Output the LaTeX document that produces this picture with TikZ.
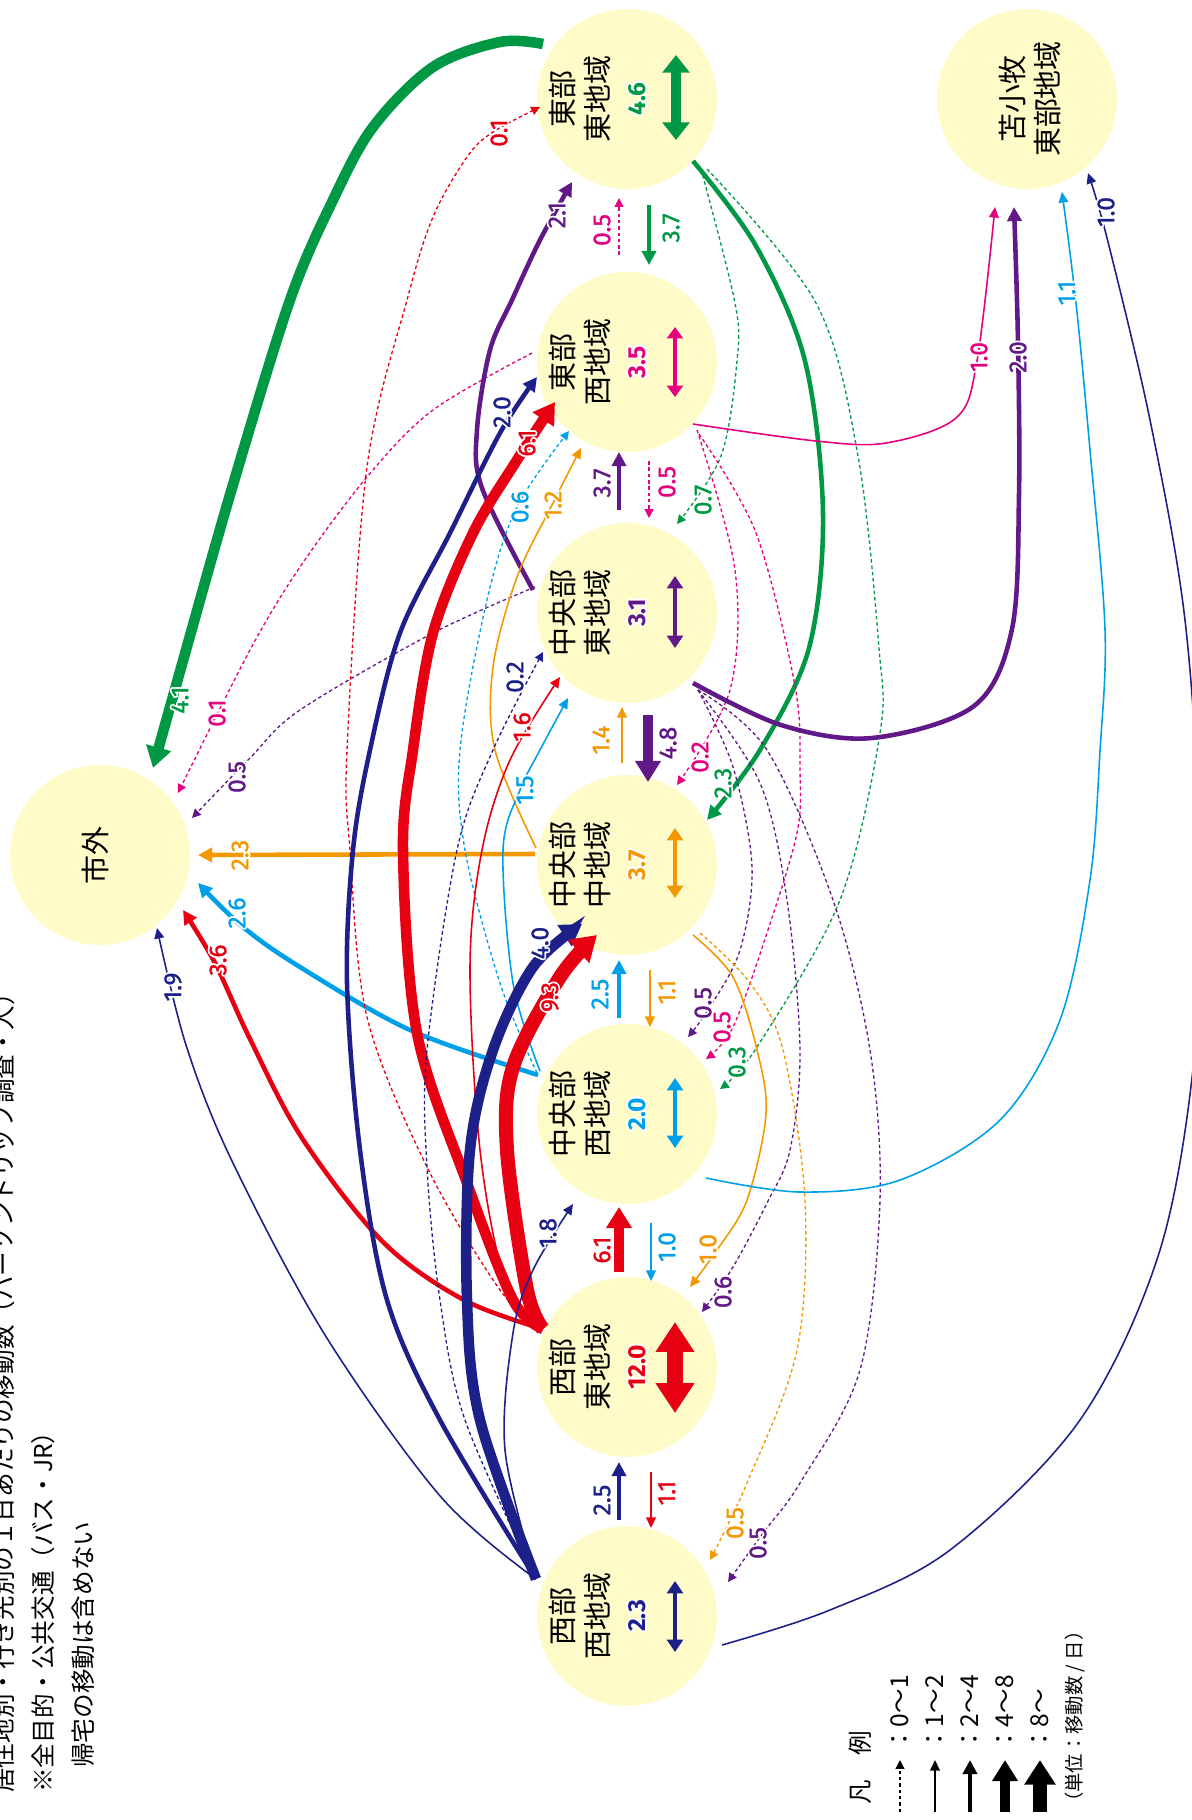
\documentclass[tikz,border=0pt]{standalone}
\usepackage{fontspec}
\setmainfont{Fira Sans}
\newfontfamily\jp{Noto Sans CJK JP}
\newfontfamily\labf{Fira Sans}[FakeBold=1.2]
\usetikzlibrary{arrows.meta}
\definecolor{cG}{HTML}{009844}
\definecolor{cP}{HTML}{E4007F}
\definecolor{cU}{HTML}{601986}
\definecolor{cO}{HTML}{F39800}
\definecolor{cC}{HTML}{00A0E9}
\definecolor{cR}{HTML}{E60012}
\definecolor{cN}{HTML}{1D2088}
\definecolor{zfill}{HTML}{FFFBC9}
\newcommand{\wc}[3]{\rlap{\kern#1\raisebox{#2}{\textcolor{white}{#3}}}}
\newcommand{\halo}[2]{\wc{1pt}{0pt}{#2}\wc{-1pt}{0pt}{#2}\wc{0pt}{1pt}{#2}\wc{0pt}{-1pt}{#2}\wc{0.7pt}{0.7pt}{#2}\wc{-0.7pt}{0.7pt}{#2}\wc{0.7pt}{-0.7pt}{#2}\wc{-0.7pt}{-0.7pt}{#2}\textcolor{#1}{#2}}
\tikzset{
 zone/.style={circle, fill=zfill, minimum size=3.6cm, inner sep=0pt, outer sep=0.1cm},
 zname/.style={rotate=90, align=center, font=\jp\fontsize{16.5}{19.8}\selectfont, inner sep=0pt},
 znum/.style={rotate=90, font=\bfseries\fontsize{14}{14}\selectfont, inner sep=0pt},
 lab/.style={rotate=90, font=\labf\fontsize{14}{14}\selectfont, inner sep=0pt},
 note/.style={rotate=90, anchor=west, font=\jp\fontsize{14}{14}\selectfont, inner sep=0pt},
 v0/.style={line width=0.75pt, dash pattern=on 2pt off 1.6pt, -{Triangle[length=5pt,width=5pt]}},
 v1/.style={line width=0.9pt, -{Triangle[length=6pt,width=5.5pt]}},
 v2/.style={line width=2.6pt, -{Triangle[length=8pt,width=8pt]}},
 v4/.style={line width=6pt, -{Triangle[length=12pt,width=14pt]}},
 v8/.style={line width=8pt, -{Triangle[length=14pt,width=17pt]}},
 sm/.style={smooth, tension=0.55},
}
\begin{document}
\begin{tikzpicture}[x=0.02cm,y=-0.02cm]
\useasboundingbox (0,0) rectangle (1191,1820);
% zones
\node[zone] (S) at (100,855) {};
\node[zone] (E1) at (627,99) {};
\node[zone] (T) at (1027,99) {};
\node[zone] (E2) at (627,362) {};
\node[zone] (C1) at (627,613) {};
\node[zone] (C2) at (627,865) {};
\node[zone] (C3) at (627,1114) {};
\node[zone] (W1) at (627,1367) {};
\node[zone] (W2) at (627,1616) {};
% end points
\coordinate (aE1g41) at ([shift={(-84,-55)}]E1.center);
\coordinate (aE1g23) at ([shift={(66,62)}]E1.center);
\coordinate (aE1g07) at ([shift={(74,70)}]E1.center);
\coordinate (aE1g03) at ([shift={(80,70)}]E1.center);
\coordinate (tE1u21) at ([shift={(-55,83)}]E1.center);
\coordinate (tE1r01) at ([shift={(-87,8)}]E1.center);
\coordinate (aE2p01) at ([shift={(-95,-9)}]E2.center);
\coordinate (aE2p10) at ([shift={(66,62)}]E2.center);
\coordinate (aE2p02) at ([shift={(70,68)}]E2.center);
\coordinate (aE2p05) at ([shift={(72,72)}]E2.center);
\coordinate (tE2n20) at ([shift={(-90,15)}]E2.center);
\coordinate (tE2r61) at ([shift={(-72,40)}]E2.center);
\coordinate (tE2c06) at ([shift={(-58,69)}]E2.center);
\coordinate (tE2o12) at ([shift={(-46,86)}]E2.center);
\coordinate (aC1u05) at ([shift={(-92,-26)}]C1.center);
\coordinate (aC1u21) at ([shift={(-94,-23)}]C1.center);
\coordinate (aC1u20) at ([shift={(66,70)}]C1.center);
\coordinate (aC1ud) at ([shift={(71,77)}]C1.center);
\coordinate (tC1g07) at ([shift={(50,-89)}]C1.center);
\coordinate (tC1n02) at ([shift={(-84,39)}]C1.center);
\coordinate (tC1r16) at ([shift={(-67,64)}]C1.center);
\coordinate (tC1c15) at ([shift={(-59,85)}]C1.center);
\coordinate (aC2o23) at ([shift={(-92,-11)}]C2.center);
\coordinate (aC2o12) at ([shift={(-91,-17)}]C2.center);
\coordinate (aC2o10) at ([shift={(66,70)}]C2.center);
\coordinate (aC2o05) at ([shift={(73,68)}]C2.center);
\coordinate (tC2g23) at ([shift={(80,-45)}]C2.center);
\coordinate (tC2p02) at ([shift={(50,-80)}]C2.center);
\coordinate (tC2n40) at ([shift={(-45,59)}]C2.center);
\coordinate (tC2r93) at ([shift={(-30,70)}]C2.center);
\coordinate (aC3c26) at ([shift={(-89,-39)}]C3.center);
\coordinate (aC3c06) at ([shift={(-90,-41)}]C3.center);
\coordinate (aC3c15) at ([shift={(-87,-43)}]C3.center);
\coordinate (aC3c11) at ([shift={(79,64)}]C3.center);
\coordinate (tC3u05) at ([shift={(61,-77)}]C3.center);
\coordinate (tC3p05) at ([shift={(79,-55)}]C3.center);
\coordinate (tC3g03) at ([shift={(93,-25)}]C3.center);
\coordinate (tC3n18) at ([shift={(-54,90)}]C3.center);
\coordinate (aW1) at ([shift={(-84,-38)}]W1.center);
\coordinate (tW1o10) at ([shift={(63,-80)}]W1.center);
\coordinate (tW1u06) at ([shift={(75,-55)}]W1.center);
\coordinate (aW2) at ([shift={(-91,-37)}]W2.center);
\coordinate (aW2n10) at ([shift={(95,29)}]W2.center);
\coordinate (tW2o05) at ([shift={(83,-56)}]W2.center);
\coordinate (tW2u05) at ([shift={(101,-34)}]W2.center);
\coordinate (tSg) at ([shift={(53,-87)}]S.center);
\coordinate (tSp) at ([shift={(78,-62)}]S.center);
\coordinate (tSu) at ([shift={(92,-37)}]S.center);
\coordinate (tSo) at ([shift={(98,0)}]S.center);
\coordinate (tSc) at ([shift={(98,28)}]S.center);
\coordinate (tSr) at ([shift={(83,55)}]S.center);
\coordinate (tSn) at ([shift={(57,73)}]S.center);
\coordinate (tTp) at ([shift={(-32,108)}]T.center);
\coordinate (tTu) at ([shift={(-13,108)}]T.center);
\coordinate (tTc) at ([shift={(35,93)}]T.center);
\coordinate (tTn) at ([shift={(61,74)}]T.center);
% ---- to Shigai
\draw[v4,cG] plot[sm] coordinates {(aE1g41) (500,42) (433,67) (373,127) (333,200) (290,300) (232,488) (186,650) (tSg)};
\draw[v0,cP] plot[sm] coordinates {(aE2p01) (433,410) (367,477) (300,567) (250,650) (tSp)};
\draw[v0,cU] plot[sm] coordinates {(aC1u05) (433,633) (300,710) (250,758) (tSu)};
\draw[v2,cO] (aC2o23) -- (tSo);
\draw[v2,cC] plot[sm] coordinates {(aC3c26) (410,1030) (300,967) (243,927) (tSc)};
\draw[v2,cR] plot[sm] coordinates {(aW1) (464,1300) (383,1242) (302,1138) (250,1039) (215,963) (tSr)};
\draw[v1,cN] plot[sm] coordinates {(aW2) (441,1497) (325,1335) (232,1161) (186,1045) (tSn)};
% ---- to E1
\draw[v2,cU] plot[sm] coordinates {(aC1u21) (482,488) (477,430) (490,350) (512,300) (540,240) (tE1u21)};
\draw[v0,cR] plot[sm] coordinates {(aW1) (500,1290) (427,1167) (367,1017) (350,850) (347,750) (367,467) (407,300) (433,217) (467,157) (493,132) (tE1r01)};
% ---- to E2
\draw[v2,cN] plot[sm] coordinates {(aW2) (440,1420) (387,1300) (360,1150) (347,983) (353,850) (370,750) (400,633) (450,533) (500,433) (tE2n20)};
\draw[v4,cR] plot[sm] coordinates {(aW1) (513,1300) (467,1183) (417,1033) (403,850) (413,750) (433,633) (473,533) (517,460) (tE2r61)};
\draw[v0,cC] plot[sm] coordinates {(aC3c06) (500,983) (465,850) (460,750) (487,600) (517,507) (tE2c06)};
\draw[v1,cO] plot[sm] coordinates {(aC2o12) (495,750) (493,667) (517,577) (553,503) (tE2o12)};
% ---- to C1
\draw[v0,cG] plot[sm] coordinates {(aE1g07) (735,303) (737,361) (721,456) (tC1g07)};
\draw[v0,cN] plot[sm] coordinates {(aW2) (465,1420) (440,1300) (427,1167) (427,1050) (457,850) (493,750) (tC1n02)};
\draw[v1,cR] plot[sm] coordinates {(aW1) (505,1280) (480,1150) (470,967) (482,850) (510,760) (tC1r16)};
\draw[v1,cC] plot[sm] coordinates {(aC3c15) (513,983) (503,850) (520,790) (540,750) (tC1c15)};
% ---- to C2
\draw[v2,cG] plot[sm] coordinates {(aE1g23) (756,246) (805,361) (823,514) (809,648) (760,750) (tC2g23)};
\draw[v0,cP] plot[sm] coordinates {(aE2p02) (735,570) (730,690) (tC2p02)};
\draw[v4,cN] plot[sm] coordinates {(aW2) (480,1420) (467,1300) (470,1150) (493,1050) (533,967) (tC2n40)};
\draw[v8,cR] plot[sm] coordinates {(aW1) (527,1290) (507,1150) (513,1067) (560,977) (tC2r93)};
% ---- to C3
\draw[v0,cU] plot[sm] coordinates {(aC1ud) (733,767) (752,867) (740,950) (710,1007) (tC3u05)};
\draw[v0,cP] plot[sm] coordinates {(aE2p05) (756,533) (795,686) (800,770) (797,833) (767,933) (733,1027) (tC3p05)};
\draw[v0,cG] plot[sm] coordinates {(aE1g03) (816,303) (858,456) (879,648) (880,733) (840,900) (757,1047) (tC3g03)};
\draw[v1,cN] plot[sm] coordinates {(aW2) (505,1450) (513,1333) (533,1270) (tC3n18)};
% ---- to W1
\draw[v1,cO] plot[sm] coordinates {(aC2o10) (733,977) (757,1050) (766,1114) (747,1200) (717,1250) (tW1o10)};
\draw[v0,cU] plot[sm] coordinates {(aC1ud) (760,783) (787,900) (800,1050) (790,1150) (767,1203) (733,1267) (tW1u06)};
% ---- to W2
\draw[v0,cO] plot[sm] coordinates {(aC2o05) (750,983) (783,1050) (805,1200) (797,1350) (747,1483) (tW2o05)};
\draw[v0,cU] plot[sm] coordinates {(aC1ud) (767,750) (833,900) (870,1050) (880,1200) (860,1370) (800,1483) (763,1533) (tW2u05)};
% ---- to Tomakomai
\draw[v1,cP] plot[sm] coordinates {(aE2p10) (816,441) (886,443) (956,418) (977,361) (tTp)};
\draw[v2,cU] plot[sm] coordinates {(aC1u20) (781,725) (872,738) (974,706) (1012,629) (1019,495) (1018,342) (tTu)};
\draw[v1,cC] plot[sm] coordinates {(aC3c11) (800,1192) (900,1180) (1000,1120) (1060,1020) (1090,880) (1100,751) (1105,629) (1090,450) (1076,303) (tTc)};
\draw[v1,cN] plot[sm] coordinates {(aW2n10) (830,1610) (950,1550) (1080,1420) (1160,1250) (1195,1050) (1200,850) (1185,620) (1150,420) (1107,238) (tTn)};
% ---- short arrows between neighbours
\draw[v0,cP] ([shift={(-8,-107)}]E2.center) -- ([shift={(-8,99)}]E1.center);
\draw[v2,cG] ([shift={(22,106)}]E1.center) -- ([shift={(22,-97)}]E2.center);
\draw[v2,cU] ([shift={(-8,-103)}]C1.center) -- ([shift={(-8,90)}]E2.center);
\draw[v0,cP] ([shift={(22,99)}]E2.center) -- ([shift={(22,-95)}]C1.center);
\draw[v1,cO] ([shift={(-5,-102)}]C2.center) -- ([shift={(-5,94)}]C1.center);
\draw[v4,cU] ([shift={(21,102)}]C1.center) -- ([shift={(21,-83)}]C2.center);
\draw[v2,cC] ([shift={(-8,-96)}]C3.center) -- ([shift={(-8,95)}]C2.center);
\draw[v1,cO] ([shift={(23,105)}]C2.center) -- ([shift={(23,-87)}]C3.center);
\draw[v4,cR] ([shift={(-8,-95)}]W1.center) -- ([shift={(-8,93)}]C3.center);
\draw[v1,cC] ([shift={(24,109)}]C3.center) -- ([shift={(24,-86)}]W1.center);
\draw[v2,cN] ([shift={(-8,-96)}]W2.center) -- ([shift={(-8,95)}]W1.center);
\draw[v1,cR] ([shift={(24,105)}]W1.center) -- ([shift={(24,-88)}]W2.center);
% ---- labels
\node[lab] (L01) at (180,700) {\halo{cG}{4.1}};
\node[lab] (L02) at (217,713) {\halo{cP}{0.1}};
\node[lab] (L03) at (237,777) {\halo{cU}{0.5}};
\node[lab] (L04) at (240,855) {\halo{cO}{2.3}};
\node[lab] (L05) at (237,913) {\halo{cC}{2.6}};
\node[lab] (L06) at (218,960) {\halo{cR}{3.6}};
\node[lab] (L07) at (173,987) {\halo{cN}{1.9}};
\node[lab] (L08) at (499,133) {\halo{cR}{0.1}};
\node[lab] (L09) at (557,215) {\halo{cU}{2.1}};
\node[lab] (L10) at (602,230) {\halo{cP}{0.5}};
\node[lab] (L11) at (671,228) {\halo{cG}{3.7}};
\node[lab] (L12) at (502,412) {\halo{cN}{2.0}};
\node[lab] (L13) at (527,443) {\halo{cR}{6.1}};
\node[lab] (L14) at (520,507) {\halo{cC}{0.6}};
\node[lab] (L15) at (553,505) {\halo{cO}{1.2}};
\node[lab] (L16) at (602,483) {\halo{cU}{3.7}};
\node[lab] (L17) at (667,482) {\halo{cP}{0.5}};
\node[lab] (L18) at (703,500) {\halo{cG}{0.7}};
\node[lab] (L19) at (515,677) {\halo{cN}{0.2}};
\node[lab] (L20) at (522,727) {\halo{cR}{1.6}};
\node[lab] (L21) at (525,790) {\halo{cC}{1.5}};
\node[lab] (L22) at (601,740) {\halo{cO}{1.4}};
\node[lab] (L23) at (668,743) {\halo{cU}{4.8}};
\node[lab] (L24) at (700,757) {\halo{cP}{0.2}};
\node[lab] (L25) at (723,783) {\halo{cG}{2.3}};
\node[lab] (L26) at (540,943) {\halo{cN}{4.0}};
\node[lab] (L27) at (550,997) {\halo{cR}{9.3}};
\node[lab] (L28) at (600,994) {\halo{cC}{2.5}};
\node[lab] (L29) at (667,992) {\halo{cO}{1.1}};
\node[lab] (L30) at (703,1003) {\halo{cU}{0.5}};
\node[lab] (L31) at (722,1027) {\halo{cP}{0.5}};
\node[lab] (L32) at (737,1062) {\halo{cG}{0.3}};
\node[lab] (L33) at (548,1233) {\halo{cN}{1.8}};
\node[lab] (L34) at (602,1250) {\halo{cR}{6.1}};
\node[lab] (L35) at (667,1247) {\halo{cC}{1.0}};
\node[lab] (L36) at (708,1249) {\halo{cO}{1.0}};
\node[lab] (L37) at (723,1292) {\halo{cU}{0.6}};
\node[lab] (L38) at (602,1500) {\halo{cN}{2.5}};
\node[lab] (L39) at (667,1493) {\halo{cR}{1.1}};
\node[lab] (L40) at (735,1523) {\halo{cO}{0.5}};
\node[lab] (L41) at (758,1543) {\halo{cU}{0.5}};
\node[lab] (L42) at (979,357) {\halo{cP}{1.0}};
\node[lab] (L43) at (1018,357) {\halo{cU}{2.0}};
\node[lab] (L44) at (1067,293) {\halo{cC}{1.1}};
\node[lab] (L45) at (1106,212) {\halo{cN}{1.0}};
% ---- zone contents
\node[zname] (nS) at (95,855) {市外};
\node[zname] (nT) at (1030,99) {苫小牧\\東部地域};
\node[zname] (nE1) at (580,99) {東部\\東地域};
\node[zname] (nE2) at (580,362) {東部\\西地域};
\node[zname] (nC1) at (580,613) {中央部\\東地域};
\node[zname] (nC2) at (580,865) {中央部\\中地域};
\node[zname] (nC3) at (580,1114) {中央部\\西地域};
\node[zname] (nW1) at (580,1367) {西部\\東地域};
\node[zname] (nW2) at (580,1616) {西部\\西地域};
\node[znum] (kE1) at (637,99) {\halo{cG}{4.6}};
\node[znum] (kE2) at (637,362) {\halo{cP}{3.5}};
\node[znum] (kC1) at (637,613) {\halo{cU}{3.1}};
\node[znum] (kC2) at (637,865) {\halo{cO}{3.7}};
\node[znum] (kC3) at (637,1114) {\halo{cC}{2.0}};
\node[znum] (kW1) at (637,1367) {\halo{cR}{12.0}};
\node[znum] (kW2) at (637,1616) {\halo{cN}{2.3}};
\draw[cG, line width=5.5pt, {Triangle[length=10pt,width=15pt]}-{Triangle[length=10pt,width=15pt]}] ([shift={(49,-44)}]E1.center) -- ([shift={(49,41)}]E1.center);
\draw[cP, line width=1.8pt, {Triangle[length=6.5pt,width=9pt]}-{Triangle[length=6.5pt,width=9pt]}] ([shift={(48,-35)}]E2.center) -- ([shift={(48,35)}]E2.center);
\draw[cU, line width=2.4pt, {Triangle[length=7pt,width=9pt]}-{Triangle[length=7pt,width=9pt]}] ([shift={(48,-37)}]C1.center) -- ([shift={(48,35)}]C1.center);
\draw[cO, line width=2.4pt, {Triangle[length=7pt,width=9pt]}-{Triangle[length=7pt,width=9pt]}] ([shift={(48,-37)}]C2.center) -- ([shift={(48,33)}]C2.center);
\draw[cC, line width=2.4pt, {Triangle[length=7pt,width=9pt]}-{Triangle[length=7pt,width=9pt]}] ([shift={(48,-36)}]C3.center) -- ([shift={(48,34)}]C3.center);
\draw[cR, line width=9.5pt, {Triangle[length=17pt,width=21pt]}-{Triangle[length=17pt,width=21pt]}] ([shift={(48,-45)}]W1.center) -- ([shift={(48,46)}]W1.center);
\draw[cN, line width=2.4pt, {Triangle[length=7pt,width=9pt]}-{Triangle[length=7pt,width=9pt]}] ([shift={(48,-35)}]W2.center) -- ([shift={(48,36)}]W2.center);
% ---- notes
\node[note] (t1) at (3,1793) {居住地別・行き先別の１日あたりの移動数（パーソントリップ調査・人）};
\node[note] (t2) at (43,1793) {※全目的・公共交通（バス・JR）};
\node[note] (t3) at (83,1768) {帰宅の移動は含めない};
% ---- legend
\node[note] (lg0) at (860,1805) {凡　例};
\draw[v0,black] (900,1812) -- (900,1760);
\draw[v1,black] (935,1812) -- (935,1760);
\draw[v2,black] (970,1812) -- (970,1760);
\draw[v4,black] (1005,1812) -- (1005,1760);
\draw[v8,black] (1040,1812) -- (1040,1760);
\node[note] (lg1) at (900,1752) {：0〜1};
\node[note] (lg2) at (935,1752) {：1〜2};
\node[note] (lg3) at (970,1752) {：2〜4};
\node[note] (lg4) at (1005,1752) {：4〜8};
\node[note] (lg5) at (1040,1752) {：8〜};
\node[note, font=\jp\fontsize{11}{11}\selectfont] (lg6) at (1075,1812) {（単位：移動数 / 日）};
\end{tikzpicture}
\end{document}
